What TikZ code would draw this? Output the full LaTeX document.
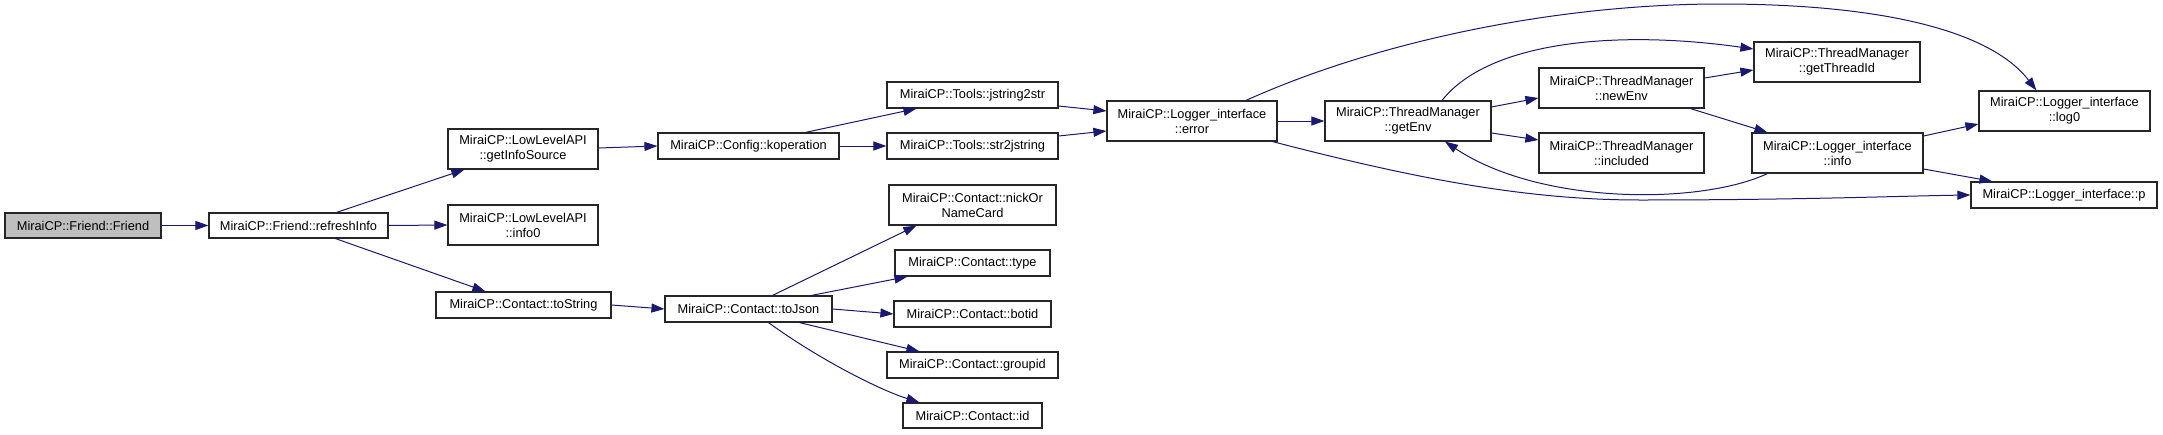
\documentclass[tikz,border=0pt]{standalone}
\usepackage{fontspec}
\setmainfont{Liberation Sans}
\usetikzlibrary{arrows.meta,calc}
\definecolor{edgeblue}{HTML}{191970}
\definecolor{nodegray}{HTML}{BFBFBF}
\tikzset{
  fn/.style={draw=black!85, line width=1.2pt, fill=white, inner sep=0pt, align=center,
    font=\fontsize{12.8}{15}\selectfont},
  call/.style={draw=edgeblue, line width=1pt, -{Triangle[length=13pt,width=9pt]}, fill=none},
}
\begin{document}
\begin{tikzpicture}[x=1pt,y=-1pt]
\fill[white] (0,0) rectangle (2163,434);
\useasboundingbox (0,0) rectangle (2163,434);
% nodes
\node[fn, fill=nodegray, minimum width=156pt, minimum height=25pt] (friend) at (83,225.5) {MiraiCP::Friend::Friend};
\node[fn, minimum width=179pt, minimum height=25pt] (refresh) at (298.5,225.5) {MiraiCP::Friend::refreshInfo};
\node[fn, minimum width=150pt, minimum height=40pt] (gis) at (523,149) {MiraiCP::LowLevelAPI\\::getInfoSource};
\node[fn, minimum width=150pt, minimum height=40pt] (info0) at (523,225) {MiraiCP::LowLevelAPI\\::info0};
\node[fn, minimum width=175pt, minimum height=26pt] (tostr) at (523.5,305) {MiraiCP::Contact::toString};
\node[fn, minimum width=181pt, minimum height=26pt] (kop) at (748.5,146) {MiraiCP::Config::koperation};
\node[fn, minimum width=167pt, minimum height=26pt] (tojson) at (748.5,309) {MiraiCP::Contact::toJson};
\node[fn, minimum width=171pt, minimum height=26pt] (j2s) at (972.5,95) {MiraiCP::Tools::jstring2str};
\node[fn, minimum width=171pt, minimum height=26pt] (s2j) at (972.5,146) {MiraiCP::Tools::str2jstring};
\node[fn, minimum width=167pt, minimum height=40pt] (nick) at (972.5,205) {MiraiCP::Contact::nickOr\\NameCard};
\node[fn, minimum width=155pt, minimum height=26pt] (type) at (972.5,263) {MiraiCP::Contact::type};
\node[fn, minimum width=157pt, minimum height=26pt] (botid) at (972.5,314) {MiraiCP::Contact::botid};
\node[fn, minimum width=171pt, minimum height=26pt] (groupid) at (972.5,365) {MiraiCP::Contact::groupid};
\node[fn, minimum width=139pt, minimum height=25pt] (id) at (972.5,415.5) {MiraiCP::Contact::id};
\node[fn, minimum width=170pt, minimum height=40pt] (error) at (1192,121) {MiraiCP::Logger\_interface\\::error};
\node[fn, minimum width=166pt, minimum height=40pt] (getenv) at (1408,121) {MiraiCP::ThreadManager\\::getEnv};
\node[fn, minimum width=165pt, minimum height=40pt] (newenv) at (1621.5,88) {MiraiCP::ThreadManager\\::newEnv};
\node[fn, minimum width=165pt, minimum height=40pt] (included) at (1621.5,153) {MiraiCP::ThreadManager\\::included};
\node[fn, minimum width=166pt, minimum height=40pt] (gettid) at (1837,62) {MiraiCP::ThreadManager\\::getThreadId};
\node[fn, minimum width=171pt, minimum height=40pt] (info) at (1837.5,153) {MiraiCP::Logger\_interface\\::info};
\node[fn, minimum width=171pt, minimum height=40pt] (log0) at (2064.5,111) {MiraiCP::Logger\_interface\\::log0};
\node[fn, minimum width=186pt, minimum height=26pt] (p) at (2064,195) {MiraiCP::Logger\_interface::p};
% edges
\draw[call] (friend.east) -- (refresh.west);
\draw[call] ($(refresh.north)+(38,0)$) -- ($(gis.south west)+(17,0)$);
\draw[call] (refresh.east) -- (info0.west);
\draw[call] ($(refresh.south)+(37,0)$) -- ($(tostr.north west)+(50,0)$);
\draw[call] ($(gis.east)+(0,-1)$) -- (kop.west);
\draw[call] ($(kop.north)+(57,0)$) -- ($(j2s.south west)+(30,0)$);
\draw[call] (kop.east) -- (s2j.west);
\draw[call] ($(j2s.east)+(0,11)$) -- ($(error.west)+(0,-10)$);
\draw[call] ($(s2j.east)+(0,-10)$) -- ($(error.west)+(0,10)$);
\draw[call] ($(error.north)+(54,0)$) .. controls (1380,40) and (1560,4) .. (1720,4)
   .. controls (1880,4) and (1990,30) .. ($(log0.north west)+(58,0)$);
\draw[call] (error.east) -- (getenv.west);
\draw[call] ($(error.south east)+(-5,0)$) .. controls (1420,180) and (1530,200) .. (1640,200)
   .. controls (1800,200) and (1900,196) .. (p.west);
\draw[call] ($(getenv.north)+(34,0)$) .. controls (1490,40) and (1620,30) .. ($(gettid.west)+(0,-13)$);
\draw[call] ($(getenv.east)+(0,-14)$) -- ($(newenv.west)+(0,10)$);
\draw[call] ($(getenv.east)+(0,12)$) -- ($(included.west)+(0,-13)$);
\draw[call] ($(newenv.east)+(0,-10)$) -- ($(gettid.west)+(0,8)$);
\draw[call] ($(newenv.south)+(69,0)$) -- ($(info.north west)+(16,0)$);
\draw[call] ($(info.east)+(0,-17)$) -- ($(log0.west)+(0,13)$);
\draw[call] ($(info.east)+(0,16)$) -- ($(p.north west)+(22,0)$);
\draw[call] ($(info.south west)+(16,0)$) .. controls (1700,205) and (1540,205) .. ($(getenv.south)+(37,0)$);
\draw[call] (tostr.east) -- (tojson.west);
\draw[call] ($(tojson.north)+(24,0)$) -- ($(nick.south west)+(28,0)$);
\draw[call] ($(tojson.north)+(63,0)$) -- ($(type.south west)+(13,0)$);
\draw[call] (tojson.east) -- (botid.west);
\draw[call] ($(tojson.south)+(51,0)$) -- ($(groupid.north west)+(33,0)$);
\draw[call] ($(tojson.south)+(20,0)$) .. controls (820,360) and (880,390) .. ($(id.north west)+(17,0)$);
\end{tikzpicture}
\end{document}
